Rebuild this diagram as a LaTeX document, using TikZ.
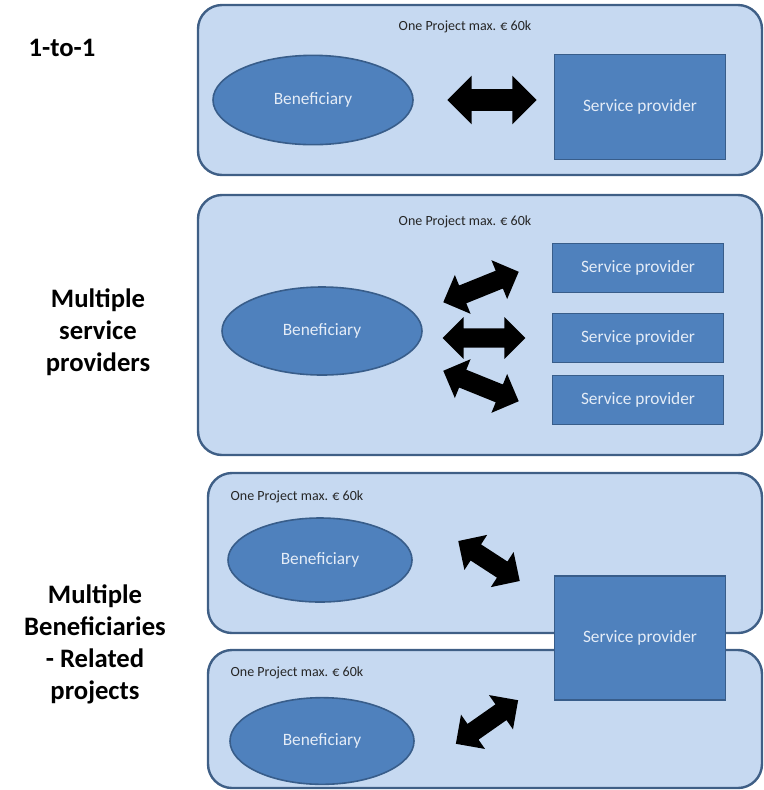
\documentclass[tikz,border=0pt]{standalone}
\usepackage{fontspec}
\setmainfont{Carlito}
\usetikzlibrary{shapes.geometric,shapes.arrows}
\definecolor{pfill}{HTML}{C6D9F1}
\definecolor{pline}{HTML}{3F5F86}
\definecolor{bfill}{HTML}{4F81BD}
\definecolor{bline}{HTML}{385D8A}
\definecolor{btext}{HTML}{E4ECF7}

\begin{document}
\begin{tikzpicture}[x=0.75pt, y=-0.75pt,
  panel/.style={draw=pline, fill=pfill, line width=1.8pt, rounded corners=18pt},
  benef/.style={ellipse, draw=bline, fill=bfill, line width=1.2pt, text=btext,
    font=\fontsize{13}{15}\selectfont, minimum width=150pt, minimum height=67pt},
  provider/.style={rectangle, draw=bline, fill=bfill, line width=1.2pt, text=btext,
    font=\fontsize{13}{15}\selectfont, minimum width=128pt, minimum height=37pt},
  link/.style={double arrow, fill=black, inner xsep=0pt, inner ysep=7pt,
    double arrow head extend=8.5pt},
  case/.style={font=\bfseries\fontsize{20}{24}\selectfont, align=center},
  title/.style={font=\fontsize{10.5}{12}\selectfont, text=black!85}]
  \useasboundingbox (0,0) rectangle (764,790);

  % left column: the three cases
  \node[case] (case1) at (62,48) {1-to-1};
  \node[case] (case2) at (98,332) {Multiple\\service\\providers};
  \node[case] (case3) at (95,644) {Multiple\\Beneficiaries\\- Related\\projects};

  % 1-to-1
  \draw[panel] (198,5) rectangle (762,175);
  \node[title] (t1) at (465,27) {One Project max. € 60k};
  \node[benef] (ben1) at (313,100) {Beneficiary};
  \node[provider, minimum height=79pt] (sp1) at (640,107) {Service provider};
  \node[link, minimum height=67pt, inner ysep=8pt, double arrow head extend=10pt]
    (arr1) at (492,100) {};

  % multiple service providers
  \draw[panel] (198,195) rectangle (762,455);
  \node[title] (t2) at (465,222) {One Project max. € 60k};
  \node[benef, minimum height=66pt] (ben2) at (322,331) {Beneficiary};
  \node[provider] (sp2a) at (638,268) {Service provider};
  \node[provider] (sp2b) at (638,338) {Service provider};
  \node[provider] (sp2c) at (638,400) {Service provider};
  \node[link, minimum height=61pt, rotate=22] (arr2a) at (481,287) {};
  \node[link, minimum height=62pt] (arr2b) at (484,338) {};
  \node[link, minimum height=61pt, rotate=-22] (arr2c) at (481,386) {};

  % multiple beneficiaries, related projects
  \draw[panel] (208,473) rectangle (762,633);
  \draw[panel] (208,650) rectangle (762,788);
  \node[title, anchor=west] (t3a) at (226,497) {One Project max. € 60k};
  \node[title, anchor=west] (t3b) at (226,673) {One Project max. € 60k};
  \node[benef, minimum width=138pt, minimum height=63pt] (ben3a) at (320,560) {Beneficiary};
  \node[benef, minimum width=138pt, minimum height=65pt] (ben3b) at (322,741) {Beneficiary};
  \node[provider, minimum height=93pt] (sp3) at (640,638) {Service provider};
  \node[link, minimum height=55pt, rotate=-33] (arr3a) at (489,561) {};
  \node[link, minimum height=57pt, rotate=35] (arr3b) at (487,722) {};
\end{tikzpicture}
\end{document}
